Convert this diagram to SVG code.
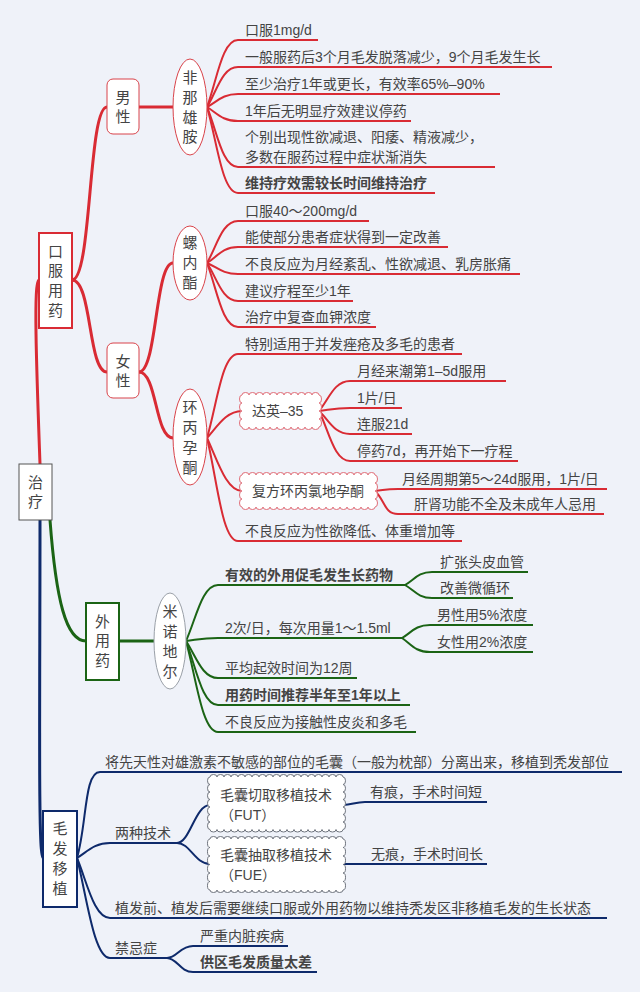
<svg xmlns="http://www.w3.org/2000/svg" width="640" height="992" viewBox="0 0 640 992">
<style>
text{font-family:"Liberation Sans","Noto Sans CJK SC",sans-serif;font-size:14px;fill:#444}
.n{font-size:15px;text-anchor:middle}
.b{font-weight:bold}
.r{fill:none;stroke:#d92b34;stroke-width:2}
.g{fill:none;stroke:#1b6415;stroke-width:2}
.u{fill:none;stroke:#0e2a6b;stroke-width:2}
.m{stroke-width:3}
</style>
<rect width="640" height="992" fill="#eff2f9"/>
<g id="connectors">
<path class="r m" d="M40,464 C37,380 33,280 39,280"/>
<path class="r m" d="M72,280 C92,280 88,107 107,107"/>
<path class="r m" d="M72,280 C92,280 88,372 107,372"/>
<path class="r m" d="M139,107 H173"/>
<path class="r m" d="M139,372 C157,372 155,263 173,263"/>
<path class="r m" d="M139,372 C157,372 155,438 173,438"/>
<path class="r" d="M207,107 C217,80 222,40 238,40 H318"/>
<path class="r" d="M207,107 C217,91 222,67 238,67 H552"/>
<path class="r" d="M207,107 C217,102 222,94 238,94 H500"/>
<path class="r" d="M207,107 C217,113 222,121 238,121 H411"/>
<path class="r" d="M207,107 C217,131 222,167 238,167 H495"/>
<path class="r" d="M207,107 C217,141 222,193 238,193 H435"/>
<path class="r" d="M207,263 C217,246 222,221 238,221 H369"/>
<path class="r" d="M207,263 C217,257 222,247 238,247 H448"/>
<path class="r" d="M207,263 C217,267 222,274 238,274 H520"/>
<path class="r" d="M207,263 C217,278 222,301 238,301 H353"/>
<path class="r" d="M207,263 C217,289 222,327 238,327 H376"/>
<path class="r" d="M207,438 C217,404 222,354 238,354 H462"/>
<path class="r" d="M207,438 C217,427 226,411 242,411"/>
<path class="r" d="M207,438 C217,459 226,491 242,491"/>
<path class="r" d="M207,438 C217,479 222,541 238,541 H462"/>
<path class="r" d="M319,411 C329,399 334,381 350,381 H506"/>
<path class="r" d="M319,411 C329,410 334,408 350,408 H402"/>
<path class="r" d="M319,411 C329,420 334,434 350,434 H412"/>
<path class="r" d="M319,411 C329,431 334,461 350,461 H518"/>
<path class="r" d="M375,491 C385,490 385,489 398,489 H607"/>
<path class="r" d="M375,491 C385,500 384,514 398,514 H604"/>
<path class="g m" d="M50,520 C56,600 66,641 86,641"/>
<path class="g m" d="M119,641 H154"/>
<path class="g" d="M186,641 C196,619 202,585 218,585 H405"/>
<path class="g" d="M186,641 C196,640 202,638 218,638 H402"/>
<path class="g" d="M186,641 C196,656 202,678 218,678 H357"/>
<path class="g" d="M186,641 C196,667 202,705 218,705 H410"/>
<path class="g" d="M186,641 C196,677 202,732 218,732 H416"/>
<path class="g" d="M405,585 C414,580 418,572 432,572 H528"/>
<path class="g" d="M405,585 C414,590 418,598 432,598 H513"/>
<path class="g" d="M402,638 C411,633 415,625 430,625 H533"/>
<path class="g" d="M402,638 C411,644 415,652 430,652 H533"/>
<path class="u m" d="M40,520 C40,700 38,858 43,858"/>
<path class="u" d="M77,858 C87,824 84,772 100,772 H622"/>
<path class="u" d="M77,858 C87,852 94,843 110,843 H177"/>
<path class="u" d="M77,858 C87,882 94,918 110,918 H607"/>
<path class="u" d="M77,858 C87,898 94,958 110,958 H167"/>
<path class="u" d="M177,843 C190,843 195,805 210,805"/>
<path class="u" d="M177,843 C190,843 195,864 210,864"/>
<path class="u" d="M343,805 C352,805 355,802 365,802 H487"/>
<path class="u" d="M343,864 H487"/>
<path class="u" d="M167,958 C177,958 180,946 193,946 H288"/>
<path class="u" d="M167,958 C177,958 180,972 193,972 H317"/>
</g>
<g id="root">
<rect x="19" y="464" width="33" height="56" fill="#fff" stroke="#555" stroke-width="1"/>
<text class="n" x="35.5" y="488">治</text><text class="n" x="35.5" y="507">疗</text>
</g>
<g id="oral">
<rect x="39" y="233" width="33" height="95" fill="#fff" stroke="#d92b34" stroke-width="2"/>
<text class="n" x="55.5" y="257">口</text><text class="n" x="55.5" y="276">服</text><text class="n" x="55.5" y="296">用</text><text class="n" x="55.5" y="316">药</text>
</g>
<g id="male">
<rect x="107" y="79" width="32" height="55" rx="6" fill="#fff" stroke="#d9434a" stroke-width="1"/>
<text class="n" x="123" y="103">男</text><text class="n" x="123" y="122">性</text>
</g>
<g id="female">
<rect x="107" y="343" width="32" height="55" rx="6" fill="#fff" stroke="#d9434a" stroke-width="1"/>
<text class="n" x="123" y="367">女</text><text class="n" x="123" y="386">性</text>
</g>
<g id="finasteride">
<ellipse cx="190" cy="107" rx="17" ry="48" fill="#fff" stroke="#d9434a" stroke-width="1"/>
<text class="n" x="190" y="83">非</text><text class="n" x="190" y="103">那</text><text class="n" x="190" y="123">雄</text><text class="n" x="190" y="142">胺</text>
</g>
<g id="spironolactone">
<ellipse cx="190" cy="263" rx="17" ry="37" fill="#fff" stroke="#d9434a" stroke-width="1"/>
<text class="n" x="190" y="248">螺</text><text class="n" x="190" y="268">内</text><text class="n" x="190" y="288">酯</text>
</g>
<g id="cyproterone">
<ellipse cx="190" cy="437" rx="17" ry="48" fill="#fff" stroke="#d9434a" stroke-width="1"/>
<text class="n" x="190" y="413">环</text><text class="n" x="190" y="433">丙</text><text class="n" x="190" y="453">孕</text><text class="n" x="190" y="473">酮</text>
</g>
<g id="diane35">
<path fill="#fff" stroke="#e0707a" stroke-width="1" d="M242,395 a3.5 2.5 0 0 1 7 0 3.5 2.5 0 0 1 7 0 3.5 2.5 0 0 1 7 0 3.5 2.5 0 0 1 7 0 3.5 2.5 0 0 1 7 0 3.5 2.5 0 0 1 7 0 3.5 2.5 0 0 1 7 0 3.5 2.5 0 0 1 7 0 3.5 2.5 0 0 1 7 0 3.5 2.5 0 0 1 7 0 3.5 2.5 0 0 1 7 0 a2.5 4 0 0 1 0 8 2.5 4 0 0 1 0 8 2.5 4 0 0 1 0 8 2.5 4 0 0 1 0 8 a3.5 2.5 0 0 1 -7 0 3.5 2.5 0 0 1 -7 0 3.5 2.5 0 0 1 -7 0 3.5 2.5 0 0 1 -7 0 3.5 2.5 0 0 1 -7 0 3.5 2.5 0 0 1 -7 0 3.5 2.5 0 0 1 -7 0 3.5 2.5 0 0 1 -7 0 3.5 2.5 0 0 1 -7 0 3.5 2.5 0 0 1 -7 0 3.5 2.5 0 0 1 -7 0 a2.5 4 0 0 1 0 -8 2.5 4 0 0 1 0 -8 2.5 4 0 0 1 0 -8 2.5 4 0 0 1 0 -8z"/>
<text x="252" y="416">达英–35</text>
</g>
<g id="compound">
<path fill="#fff" stroke="#e0707a" stroke-width="1" d="M242,475 a3.5 2.5 0 0 1 7 0 3.5 2.5 0 0 1 7 0 3.5 2.5 0 0 1 7 0 3.5 2.5 0 0 1 7 0 3.5 2.5 0 0 1 7 0 3.5 2.5 0 0 1 7 0 3.5 2.5 0 0 1 7 0 3.5 2.5 0 0 1 7 0 3.5 2.5 0 0 1 7 0 3.5 2.5 0 0 1 7 0 3.5 2.5 0 0 1 7 0 3.5 2.5 0 0 1 7 0 3.5 2.5 0 0 1 7 0 3.5 2.5 0 0 1 7 0 3.5 2.5 0 0 1 7 0 3.5 2.5 0 0 1 7 0 3.5 2.5 0 0 1 7 0 3.5 2.5 0 0 1 7 0 3.5 2.5 0 0 1 7 0 a2.5 4 0 0 1 0 8 2.5 4 0 0 1 0 8 2.5 4 0 0 1 0 8 2.5 4 0 0 1 0 8 a3.5 2.5 0 0 1 -7 0 3.5 2.5 0 0 1 -7 0 3.5 2.5 0 0 1 -7 0 3.5 2.5 0 0 1 -7 0 3.5 2.5 0 0 1 -7 0 3.5 2.5 0 0 1 -7 0 3.5 2.5 0 0 1 -7 0 3.5 2.5 0 0 1 -7 0 3.5 2.5 0 0 1 -7 0 3.5 2.5 0 0 1 -7 0 3.5 2.5 0 0 1 -7 0 3.5 2.5 0 0 1 -7 0 3.5 2.5 0 0 1 -7 0 3.5 2.5 0 0 1 -7 0 3.5 2.5 0 0 1 -7 0 3.5 2.5 0 0 1 -7 0 3.5 2.5 0 0 1 -7 0 3.5 2.5 0 0 1 -7 0 3.5 2.5 0 0 1 -7 0 a2.5 4 0 0 1 0 -8 2.5 4 0 0 1 0 -8 2.5 4 0 0 1 0 -8 2.5 4 0 0 1 0 -8z"/>
<text x="252" y="496">复方环丙氯地孕酮</text>
</g>
<g id="leaves-oral">
<text x="245" y="35">口服1mg/d</text>
<text x="245" y="62">一般服药后3个月毛发脱落减少，9个月毛发生长</text>
<text x="245" y="89">至少治疗1年或更长，有效率65%–90%</text>
<text x="245" y="116">1年后无明显疗效建议停药</text>
<text x="245" y="142">个别出现性欲减退、阳痿、精液减少，</text>
<text x="245" y="162">多数在服药过程中症状渐消失</text>
<text class="b" x="245" y="188">维持疗效需较长时间维持治疗</text>
<text x="245" y="216">口服40～200mg/d</text>
<text x="245" y="242">能使部分患者症状得到一定改善</text>
<text x="245" y="269">不良反应为月经紊乱、性欲减退、乳房胀痛</text>
<text x="245" y="296">建议疗程至少1年</text>
<text x="245" y="322">治疗中复查血钾浓度</text>
<text x="245" y="349">特别适用于并发痤疮及多毛的患者</text>
<text x="357" y="376">月经来潮第1–5d服用</text>
<text x="357" y="403">1片/日</text>
<text x="357" y="429">连服21d</text>
<text x="357" y="456">停药7d，再开始下一疗程</text>
<text x="402" y="484">月经周期第5～24d服用，1片/日</text>
<text x="414" y="509">肝肾功能不全及未成年人忌用</text>
<text x="245" y="536">不良反应为性欲降低、体重增加等</text>
</g>
<g id="topical">
<rect x="86" y="603" width="33" height="77" fill="#fff" stroke="#1b6415" stroke-width="2"/>
<text class="n" x="102.5" y="627">外</text><text class="n" x="102.5" y="646">用</text><text class="n" x="102.5" y="666">药</text>
</g>
<g id="minoxidil">
<ellipse cx="170" cy="641" rx="16" ry="48" fill="#fff" stroke="#9aa0a8" stroke-width="1"/>
<text class="n" x="170" y="617">米</text><text class="n" x="170" y="637">诺</text><text class="n" x="170" y="657">地</text><text class="n" x="170" y="677">尔</text>
</g>
<g id="leaves-topical">
<text class="b" x="225" y="580">有效的外用促毛发生长药物</text>
<text x="440" y="567">扩张头皮血管</text>
<text x="440" y="593">改善微循环</text>
<text x="225" y="633">2次/日，每次用量1～1.5ml</text>
<text x="437" y="620">男性用5%浓度</text>
<text x="437" y="647">女性用2%浓度</text>
<text x="225" y="673">平均起效时间为12周</text>
<text class="b" x="225" y="700">用药时间推荐半年至1年以上</text>
<text x="225" y="727">不良反应为接触性皮炎和多毛</text>
</g>
<g id="transplant">
<rect x="43" y="811" width="34" height="96" fill="#fff" stroke="#0e2a6b" stroke-width="2"/>
<text class="n" x="60" y="834">毛</text><text class="n" x="60" y="854">发</text><text class="n" x="60" y="874">移</text><text class="n" x="60" y="894">植</text>
</g>
<g id="fut">
<path fill="#fff" stroke="#70757f" stroke-width="1" d="M210,777 a3.5 2.5 0 0 1 7 0 3.5 2.5 0 0 1 7 0 3.5 2.5 0 0 1 7 0 3.5 2.5 0 0 1 7 0 3.5 2.5 0 0 1 7 0 3.5 2.5 0 0 1 7 0 3.5 2.5 0 0 1 7 0 3.5 2.5 0 0 1 7 0 3.5 2.5 0 0 1 7 0 3.5 2.5 0 0 1 7 0 3.5 2.5 0 0 1 7 0 3.5 2.5 0 0 1 7 0 3.5 2.5 0 0 1 7 0 3.5 2.5 0 0 1 7 0 3.5 2.5 0 0 1 7 0 3.5 2.5 0 0 1 7 0 3.5 2.5 0 0 1 7 0 3.5 2.5 0 0 1 7 0 3.5 2.5 0 0 1 7 0 a2.5 3.75 0 0 1 0 7.5 2.5 3.75 0 0 1 0 7.5 2.5 3.75 0 0 1 0 7.5 2.5 3.75 0 0 1 0 7.5 2.5 3.75 0 0 1 0 7.5 2.5 3.75 0 0 1 0 7.5 2.5 3.75 0 0 1 0 7.5 a3.5 2.5 0 0 1 -7 0 3.5 2.5 0 0 1 -7 0 3.5 2.5 0 0 1 -7 0 3.5 2.5 0 0 1 -7 0 3.5 2.5 0 0 1 -7 0 3.5 2.5 0 0 1 -7 0 3.5 2.5 0 0 1 -7 0 3.5 2.5 0 0 1 -7 0 3.5 2.5 0 0 1 -7 0 3.5 2.5 0 0 1 -7 0 3.5 2.5 0 0 1 -7 0 3.5 2.5 0 0 1 -7 0 3.5 2.5 0 0 1 -7 0 3.5 2.5 0 0 1 -7 0 3.5 2.5 0 0 1 -7 0 3.5 2.5 0 0 1 -7 0 3.5 2.5 0 0 1 -7 0 3.5 2.5 0 0 1 -7 0 3.5 2.5 0 0 1 -7 0 a2.5 3.75 0 0 1 0 -7.5 2.5 3.75 0 0 1 0 -7.5 2.5 3.75 0 0 1 0 -7.5 2.5 3.75 0 0 1 0 -7.5 2.5 3.75 0 0 1 0 -7.5 2.5 3.75 0 0 1 0 -7.5 2.5 3.75 0 0 1 0 -7.5z"/>
<text x="220" y="800">毛囊切取移植技术</text>
<text x="220" y="820">（FUT）</text>
</g>
<g id="fue">
<path fill="#fff" stroke="#70757f" stroke-width="1" d="M210,839 a3.5 2.5 0 0 1 7 0 3.5 2.5 0 0 1 7 0 3.5 2.5 0 0 1 7 0 3.5 2.5 0 0 1 7 0 3.5 2.5 0 0 1 7 0 3.5 2.5 0 0 1 7 0 3.5 2.5 0 0 1 7 0 3.5 2.5 0 0 1 7 0 3.5 2.5 0 0 1 7 0 3.5 2.5 0 0 1 7 0 3.5 2.5 0 0 1 7 0 3.5 2.5 0 0 1 7 0 3.5 2.5 0 0 1 7 0 3.5 2.5 0 0 1 7 0 3.5 2.5 0 0 1 7 0 3.5 2.5 0 0 1 7 0 3.5 2.5 0 0 1 7 0 3.5 2.5 0 0 1 7 0 3.5 2.5 0 0 1 7 0 a2.5 4.25 0 0 1 0 8.5 2.5 4.25 0 0 1 0 8.5 2.5 4.25 0 0 1 0 8.5 2.5 4.25 0 0 1 0 8.5 2.5 4.25 0 0 1 0 8.5 2.5 4.25 0 0 1 0 8.5 a3.5 2.5 0 0 1 -7 0 3.5 2.5 0 0 1 -7 0 3.5 2.5 0 0 1 -7 0 3.5 2.5 0 0 1 -7 0 3.5 2.5 0 0 1 -7 0 3.5 2.5 0 0 1 -7 0 3.5 2.5 0 0 1 -7 0 3.5 2.5 0 0 1 -7 0 3.5 2.5 0 0 1 -7 0 3.5 2.5 0 0 1 -7 0 3.5 2.5 0 0 1 -7 0 3.5 2.5 0 0 1 -7 0 3.5 2.5 0 0 1 -7 0 3.5 2.5 0 0 1 -7 0 3.5 2.5 0 0 1 -7 0 3.5 2.5 0 0 1 -7 0 3.5 2.5 0 0 1 -7 0 3.5 2.5 0 0 1 -7 0 3.5 2.5 0 0 1 -7 0 a2.5 4.25 0 0 1 0 -8.5 2.5 4.25 0 0 1 0 -8.5 2.5 4.25 0 0 1 0 -8.5 2.5 4.25 0 0 1 0 -8.5 2.5 4.25 0 0 1 0 -8.5 2.5 4.25 0 0 1 0 -8.5z"/>
<text x="220" y="860">毛囊抽取移植技术</text>
<text x="220" y="880">（FUE）</text>
</g>
<g id="leaves-transplant">
<text x="105" y="767">将先天性对雄激素不敏感的部位的毛囊（一般为枕部）分离出来，移植到秃发部位</text>
<text x="115" y="838">两种技术</text>
<text x="370" y="797">有痕，手术时间短</text>
<text x="371" y="859">无痕，手术时间长</text>
<text x="115" y="913">植发前、植发后需要继续口服或外用药物以维持秃发区非移植毛发的生长状态</text>
<text x="115" y="953">禁忌症</text>
<text x="200" y="941">严重内脏疾病</text>
<text class="b" x="200" y="967">供区毛发质量太差</text>
</g>
</svg>
